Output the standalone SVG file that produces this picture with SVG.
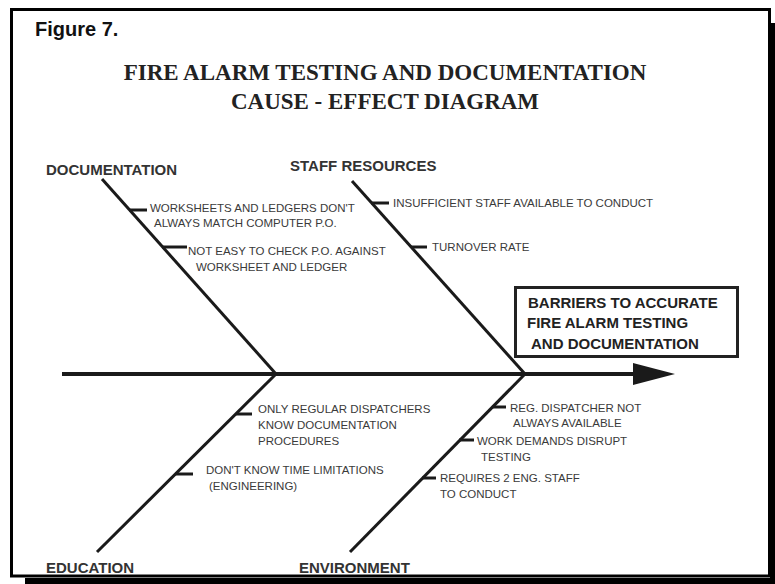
<svg xmlns="http://www.w3.org/2000/svg" width="775" height="584" viewBox="0 0 775 584">
  <style>
    .frame { fill: #ffffff; stroke: #000000; stroke-width: 3; }
    .shadow { fill: #000000; }
    .fig { font-family: "Liberation Sans", Arial, sans-serif; font-weight: bold; font-size: 20px; fill: #111111; }
    .title { font-family: "Liberation Serif", "Times New Roman", serif; font-weight: bold; font-size: 23px; fill: #222222; text-anchor: middle; }
    .head { font-family: "Liberation Sans", Arial, sans-serif; font-weight: bold; font-size: 15px; fill: #333333; }
    .cause { font-family: "Liberation Sans", Arial, sans-serif; font-size: 11.5px; fill: #3a3a3a; }
    .effect-box { fill: #ffffff; stroke: #222222; stroke-width: 3; }
    .effect { font-family: "Liberation Sans", Arial, sans-serif; font-weight: bold; font-size: 15px; fill: #222222; }
    .spine { stroke: #1a1a1a; stroke-width: 4; fill: none; }
    .bone { stroke: #1a1a1a; stroke-width: 3; fill: none; }
    .tick { stroke: #1a1a1a; stroke-width: 3; fill: none; }
  </style>
  <defs>
    <marker id="head" markerUnits="userSpaceOnUse" markerWidth="42" markerHeight="24" refX="0" refY="12" orient="auto">
      <path d="M0,1 L42,12 L0,23 Z" fill="#1a1a1a"/>
    </marker>
  </defs>

  <!-- page frame with drop shadow -->
  <rect class="shadow" x="770" y="23" width="5" height="561"/>
  <rect class="shadow" x="25" y="578" width="750" height="6"/>
  <rect class="frame" x="11.5" y="9.5" width="758" height="566.5"/>

  <text class="fig" x="35" y="36">Figure 7.</text>
  <text class="title" x="385" y="80">FIRE ALARM TESTING AND DOCUMENTATION</text>
  <text class="title" x="385" y="109">CAUSE - EFFECT DIAGRAM</text>

  <!-- spine and category bones -->
  <g id="connectors">
    <line class="spine" x1="62" y1="374" x2="633" y2="374" marker-end="url(#head)"/>
    <line class="bone" x1="102" y1="179" x2="276" y2="374"/>
    <line class="bone" x1="352" y1="181" x2="525" y2="374"/>
    <line class="bone" x1="276" y1="374" x2="97" y2="552"/>
    <line class="bone" x1="525" y1="374" x2="350" y2="552"/>
  </g>

  <g id="documentation">
    <text class="head" x="46" y="175">DOCUMENTATION</text>
    <line class="tick" x1="129" y1="210" x2="147" y2="210"/>
    <text class="cause" x="150" y="212">WORKSHEETS AND LEDGERS DON'T</text>
    <text class="cause" x="154" y="227">ALWAYS MATCH COMPUTER P.O.</text>
    <line class="tick" x1="162" y1="247" x2="187" y2="247"/>
    <text class="cause" x="188" y="255">NOT EASY TO CHECK P.O. AGAINST</text>
    <text class="cause" x="196" y="271">WORKSHEET AND LEDGER</text>
  </g>

  <g id="staff-resources">
    <text class="head" x="290" y="171">STAFF RESOURCES</text>
    <line class="tick" x1="371" y1="203" x2="389" y2="203"/>
    <text class="cause" x="393" y="207">INSUFFICIENT STAFF AVAILABLE TO CONDUCT</text>
    <line class="tick" x1="411" y1="247" x2="427" y2="247"/>
    <text class="cause" x="432" y="251">TURNOVER RATE</text>
  </g>

  <g id="education">
    <line class="tick" x1="236" y1="414" x2="252" y2="414"/>
    <text class="cause" x="258" y="413">ONLY REGULAR DISPATCHERS</text>
    <text class="cause" x="258" y="429">KNOW DOCUMENTATION</text>
    <text class="cause" x="258" y="445">PROCEDURES</text>
    <line class="tick" x1="175" y1="474" x2="193" y2="474"/>
    <text class="cause" x="206" y="474">DON'T KNOW TIME LIMITATIONS</text>
    <text class="cause" x="209" y="490">(ENGINEERING)</text>
    <text class="head" x="46" y="573">EDUCATION</text>
  </g>

  <g id="environment">
    <line class="tick" x1="492" y1="407" x2="506" y2="407"/>
    <text class="cause" x="510" y="412">REG. DISPATCHER NOT</text>
    <text class="cause" x="513" y="427">ALWAYS AVAILABLE</text>
    <line class="tick" x1="459" y1="440" x2="474" y2="440"/>
    <text class="cause" x="477" y="445">WORK DEMANDS DISRUPT</text>
    <text class="cause" x="481" y="461">TESTING</text>
    <line class="tick" x1="422" y1="478" x2="436" y2="478"/>
    <text class="cause" x="440" y="482">REQUIRES 2 ENG. STAFF</text>
    <text class="cause" x="440" y="498">TO CONDUCT</text>
    <text class="head" x="299" y="573">ENVIRONMENT</text>
  </g>

  <g id="effect">
    <rect class="effect-box" x="515.5" y="287.5" width="222" height="69"/>
    <text class="effect" x="528" y="308">BARRIERS TO ACCURATE</text>
    <text class="effect" x="527" y="328">FIRE ALARM TESTING</text>
    <text class="effect" x="531" y="349">AND DOCUMENTATION</text>
  </g>
</svg>
